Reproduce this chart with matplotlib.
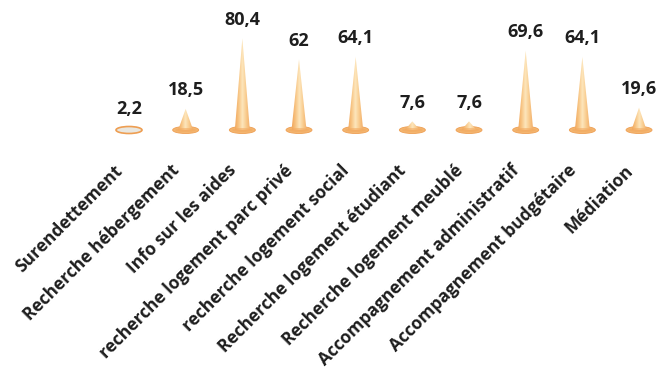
import matplotlib.pyplot as plt
import numpy as np
from matplotlib.colors import LinearSegmentedColormap
from matplotlib.patches import Ellipse, Polygon

categories = ['Surendettement', 'Recherche hébergement', 'Info sur les aides',
              'recherche logement parc privé', 'recherche logement social',
              'Recherche logement étudiant', 'Recherche logement meublé',
              'Accompagnement administratif', 'Accompagnement budgétaire',
              'Médiation']
values = [2.2, 18.5, 80.4, 62, 64.1, 7.6, 7.6, 69.6, 64.1, 19.6]
value_labels = ['2,2', '18,5', '80,4', '62', '64,1', '7,6', '7,6', '69,6', '64,1', '19,6']

plt.rcParams['font.family'] = ['Open Sans', 'DejaVu Sans']

W, H = 661, 369
fig = plt.figure(figsize=(W / 100, H / 100), dpi=100)
# plot area: x pixels 0..661, y pixels 10..140 from top
ax = fig.add_axes([0, 1 - 140 / H, 1, 130 / H])

px_per_cat = 56.67
px_per_val = 1.14
ax.set_xlim(-129 / px_per_cat, (W - 129) / px_per_cat)
ax.set_ylim(-10 / px_per_val, 120 / px_per_val)

cone_cmap = LinearSegmentedColormap.from_list(
    'cone', ['#f2a95e', '#f8c686', '#fde6bc', '#f9cb8e', '#f3b06a'])
grad = np.linspace(0, 1, 64).reshape(1, -1)

hw = 7.5 / px_per_cat          # half width of cone body
ew, eh = 26 / px_per_cat, 7 / px_per_val   # base ellipse size

for i, v in enumerate(values):
    small = v < 5
    base = Ellipse((i, 0), ew, eh,
                   facecolor='#e9e7e0' if small else '#f4b670',
                   edgecolor='#ee9e52', linewidth=1.2 if small else 0.6, zorder=2)
    ax.add_patch(base)
    if not small:
        poly = Polygon([(i - hw, 0), (i, v), (i + hw, 0)], closed=True,
                       facecolor='none', edgecolor='none')
        ax.add_patch(poly)
        im = ax.imshow(grad, cmap=cone_cmap, extent=(i - hw, i + hw, 0, v),
                       aspect='auto', zorder=3, interpolation='bilinear')
        im.set_clip_path(poly)
        # front of base ellipse
        ax.add_patch(Ellipse((i, 0), ew * 0.8, eh * 0.55, facecolor='#f2a85e',
                             edgecolor='none', alpha=0.6, zorder=4))
    ax.annotate(value_labels[i], (i, v), xytext=(0, 7),
                textcoords='offset points', ha='center', va='bottom',
                fontsize=13, fontweight='bold', color='#1e1e1e')

# rotated category labels, right end just below each cone
for i, cat in enumerate(categories):
    ax.annotate(cat, (i, 0), xycoords=('data', 'axes fraction'),
                xytext=(-6.5, -20), textcoords='offset points',
                rotation=45, rotation_mode='anchor', ha='right', va='center',
                fontsize=12.5, fontweight='bold', color='#1e1e1e',
                annotation_clip=False)

ax.set_xticks([])
ax.set_yticks([])
for s in ax.spines.values():
    s.set_visible(False)
ax.set_facecolor('none')

plt.savefig('out.png', dpi=100, facecolor='white')
